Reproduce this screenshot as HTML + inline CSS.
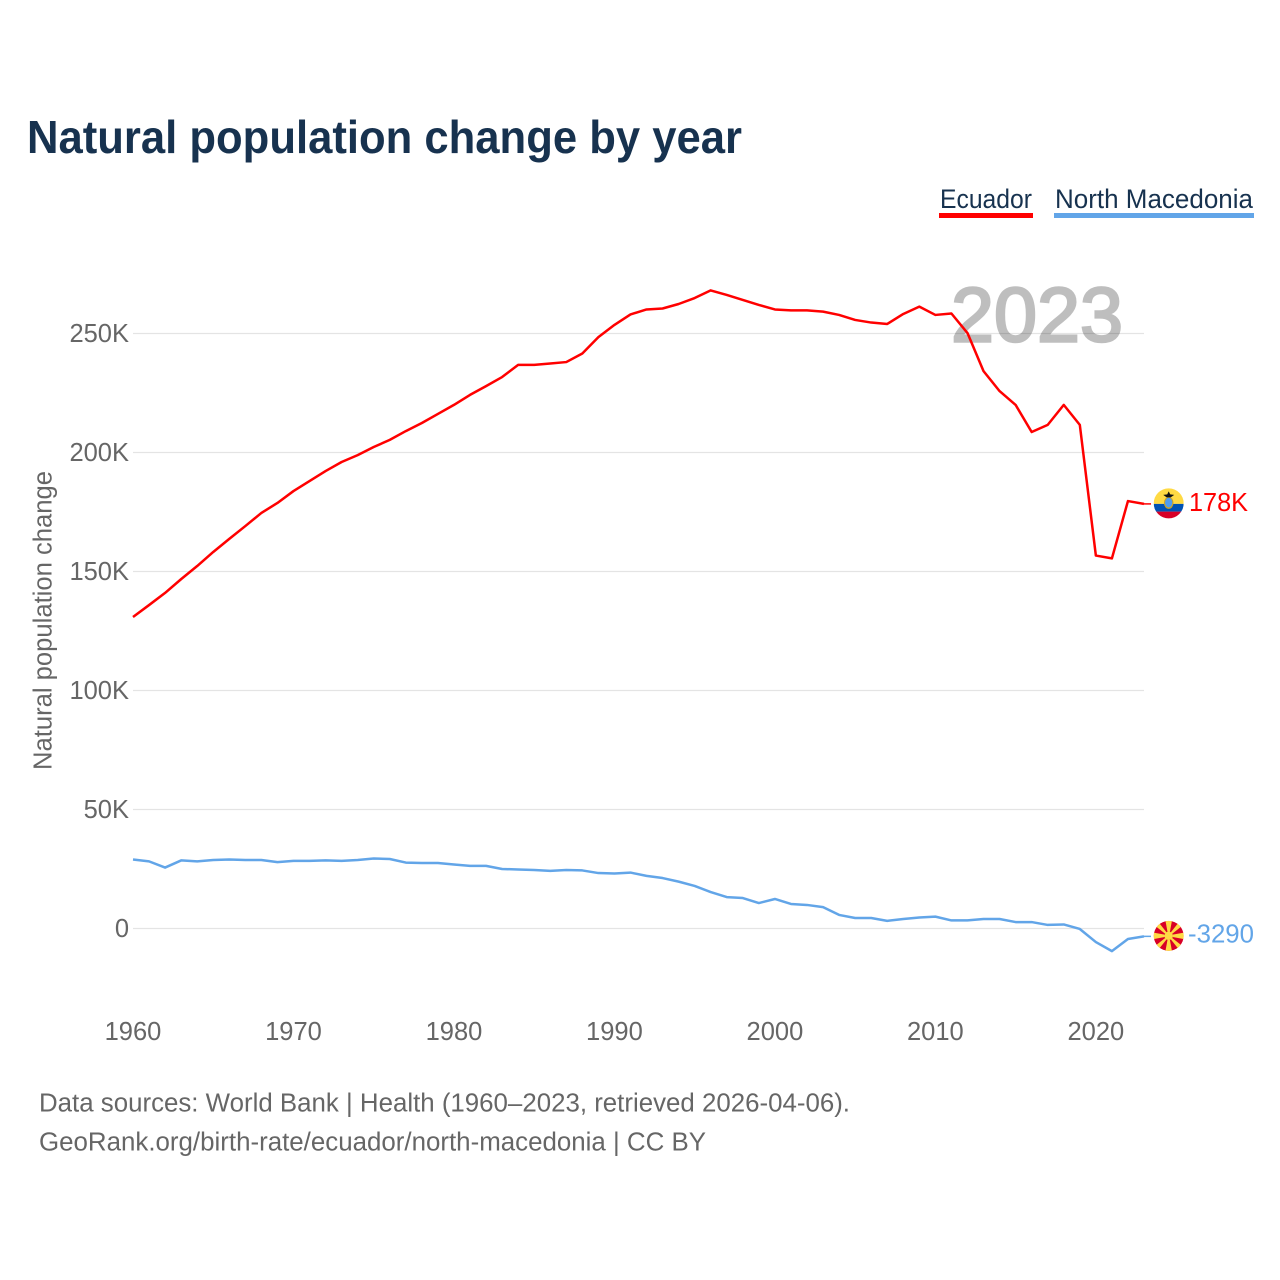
<!DOCTYPE html>
<html lang="en">
<head>
<meta charset="utf-8">
<title>Natural population change by year</title>
<style>
  html, body { margin: 0; padding: 0; background: #fff; }
  svg { display: block; font-family: "Liberation Sans", sans-serif; }
</style>
</head>
<body>
<svg id="chart" xmlns="http://www.w3.org/2000/svg" width="1280" height="1280" viewBox="0 0 1280 1280">
  <rect x="0" y="0" width="1280" height="1280" fill="#ffffff"/>
  <text x="27" y="153" font-size="46" font-weight="700" fill="#17324f" textLength="715" lengthAdjust="spacingAndGlyphs">Natural population change by year</text>

  <g>
    <text x="940" y="208" font-size="26.5" fill="#17324f" textLength="92" lengthAdjust="spacingAndGlyphs">Ecuador</text>
    <rect x="939" y="213" width="94" height="5" fill="#ff0000"/>
  </g>
  <g>
    <text x="1055" y="208" font-size="26.5" fill="#17324f" textLength="198" lengthAdjust="spacingAndGlyphs">North Macedonia</text>
    <rect x="1054" y="213" width="200" height="5" fill="#62a5e8"/>
  </g>

  <g id="grid"></g>
  <g id="y-labels"></g>
  <g id="x-labels"></g>
  <text transform="translate(51.5,770) rotate(-90)" font-size="25.5" fill="#666666" textLength="299" lengthAdjust="spacingAndGlyphs">Natural population change</text>

  <text x="951" y="341.5" font-size="77" font-weight="400" fill="#000000" stroke="#000000" stroke-width="2.5" opacity="0.25" textLength="172" lengthAdjust="spacingAndGlyphs">2023</text>

  <g id="series"></g>

  <defs>
    <clipPath id="flag-clip"><circle cx="0" cy="0" r="15"/></clipPath>
  </defs>

  <g id="flag-ecuador">
    <g clip-path="url(#flag-clip)">
      <rect x="-15" y="-16" width="30" height="16.5" fill="#ffda44"/>
      <rect x="-15" y="0.5" width="30" height="7.7" fill="#0052b4"/>
      <rect x="-15" y="8.2" width="30" height="8" fill="#d80027"/>
      <ellipse cx="0" cy="-0.5" rx="4.8" ry="6" fill="#c9a227"/>
      <ellipse cx="0" cy="-0.8" rx="3.6" ry="4.8" fill="#4f9cf0"/>
      <polygon points="-5.5,-8.5 -1.5,-9 0,-12 1.5,-9 5.5,-8.5 2,-6 -2,-6" fill="#111111"/>
    </g>
  </g>

  <g id="flag-macedonia">
    <g clip-path="url(#flag-clip)">
      <circle cx="0" cy="0" r="15" fill="#d80027"/>
      <g fill="#ffda44">
        <polygon points="-1.2,-4 1.2,-4 3.4,-16 -3.4,-16"/>
        <polygon transform="rotate(45)" points="-1,-4 1,-4 2.6,-18 -2.6,-18"/>
        <polygon transform="rotate(90)" points="-1.2,-4 1.2,-4 3.4,-16 -3.4,-16"/>
        <polygon transform="rotate(135)" points="-1,-4 1,-4 2.6,-18 -2.6,-18"/>
        <polygon transform="rotate(180)" points="-1.2,-4 1.2,-4 3.4,-16 -3.4,-16"/>
        <polygon transform="rotate(225)" points="-1,-4 1,-4 2.6,-18 -2.6,-18"/>
        <polygon transform="rotate(270)" points="-1.2,-4 1.2,-4 3.4,-16 -3.4,-16"/>
        <polygon transform="rotate(315)" points="-1,-4 1,-4 2.6,-18 -2.6,-18"/>
        <circle cx="0" cy="0" r="4.2"/>
      </g>
    </g>
  </g>

  <text id="end-ecuador" x="1189" font-size="26" fill="#ff0000" textLength="59" lengthAdjust="spacingAndGlyphs"></text>
  <text id="end-macedonia" x="1188" font-size="26" fill="#62a5e8" textLength="66" lengthAdjust="spacingAndGlyphs"></text>

  <text x="39" y="1111.5" font-size="25.5" fill="#666666" textLength="811" lengthAdjust="spacingAndGlyphs">Data sources: World Bank | Health (1960–2023, retrieved 2026-04-06).</text>
  <text x="39" y="1150.5" font-size="25.5" fill="#666666" textLength="667" lengthAdjust="spacingAndGlyphs">GeoRank.org/birth-rate/ecuador/north-macedonia | CC BY</text>
</svg>

<script>
var startYear = 1960;
var ecuadorValues = [130.9,135.9,141.0,146.8,152.3,158.2,163.7,169.1,174.6,178.8,
  183.8,188.0,192.2,196.0,198.9,202.3,205.3,209.0,212.4,216.2,
  220.0,224.2,227.9,231.7,236.8,236.8,237.4,238.0,241.6,248.5,
  253.6,258.0,260.1,260.5,262.4,264.9,268.1,266.2,264.1,262.0,
  260.1,259.7,259.7,259.2,257.8,255.7,254.6,254.0,258.2,261.3,
  257.8,258.4,250.2,234.2,225.8,220.0,208.6,211.6,220.0,211.6,
  156.7,155.5,179.6,178.4];
var macedoniaValues = [29.0,28.2,25.6,28.6,28.2,28.8,29.0,28.8,28.8,27.9,
  28.4,28.4,28.6,28.4,28.8,29.4,29.2,27.7,27.5,27.5,
  26.9,26.3,26.3,25.0,24.8,24.6,24.2,24.6,24.4,23.3,
  23.1,23.5,22.1,21.2,19.7,17.9,15.3,13.2,12.8,10.7,
  12.4,10.3,9.9,9.0,5.7,4.4,4.4,3.2,4.0,4.6,
  5.0,3.4,3.4,4.0,4.0,2.7,2.7,1.5,1.7,-0.2,
  -5.7,-9.5,-4.4,-3.3];
var yTicks = [0,50,100,150,200,250];
var yTickLabels = ['0','50K','100K','150K','200K','250K'];
var xTicks = [1960,1970,1980,1990,2000,2010,2020];
var endLabels = ['178K','-3290'];

var NS = 'http://www.w3.org/2000/svg';
function xScale(year) { return 133 + (year - 1960) * (1011 / 63); }
function yScale(v) { return 928.5 - v * 2.38; }
function make(tag, parent) {
  var el = document.createElementNS(NS, tag);
  parent.appendChild(el);
  return el;
}

var grid = document.getElementById('grid');
var yLabels = document.getElementById('y-labels');
yTicks.forEach(function (t, i) {
  var line = make('line', grid);
  
  
  line.setAttribute('x1', 133);
  line.setAttribute('x2', 1144);
  line.setAttribute('y1', yScale(t));
  line.setAttribute('y2', yScale(t));
  line.setAttribute('stroke', '#e4e4e4');
  line.setAttribute('stroke-width', 1.25);
  var label = make('text', yLabels);
  
  
  label.setAttribute('x', 129);
  label.setAttribute('y', yScale(t) + 8.5);
  label.setAttribute('text-anchor', 'end');
  label.setAttribute('font-size', 25.5);
  label.setAttribute('fill', '#666666');
  label.textContent = yTickLabels[i];
});

var xLabels = document.getElementById('x-labels');
xTicks.forEach(function (t) {
  var label = make('text', xLabels);
  
  
  label.setAttribute('x', xScale(t));
  label.setAttribute('y', 1040);
  label.setAttribute('text-anchor', 'middle');
  label.setAttribute('font-size', 25.5);
  label.setAttribute('fill', '#666666');
  label.textContent = String(t);
});

function linePoints(values) {
  return values.map(function (v, i) {
    return xScale(startYear + i).toFixed(2) + ',' + yScale(v).toFixed(2);
  }).join(' ');
}

var series = document.getElementById('series');

var ecuadorLine = make('polyline', series);


ecuadorLine.setAttribute('points', linePoints(ecuadorValues));
ecuadorLine.setAttribute('fill', 'none');
ecuadorLine.setAttribute('stroke', '#ff0000');
ecuadorLine.setAttribute('stroke-width', 2.5);
ecuadorLine.setAttribute('stroke-linejoin', 'round');

var macedoniaLine = make('polyline', series);


macedoniaLine.setAttribute('points', linePoints(macedoniaValues));
macedoniaLine.setAttribute('fill', 'none');
macedoniaLine.setAttribute('stroke', '#62a5e8');
macedoniaLine.setAttribute('stroke-width', 2.5);
macedoniaLine.setAttribute('stroke-linejoin', 'round');

var lastYear = startYear + ecuadorValues.length - 1;
var ecuadorEndY = yScale(ecuadorValues[ecuadorValues.length - 1]);
var macedoniaEndY = yScale(macedoniaValues[macedoniaValues.length - 1]);

var ecuadorConnector = make('line', series);


ecuadorConnector.setAttribute('x1', xScale(lastYear));
ecuadorConnector.setAttribute('x2', 1151);
ecuadorConnector.setAttribute('y1', ecuadorEndY);
ecuadorConnector.setAttribute('y2', ecuadorEndY);
ecuadorConnector.setAttribute('stroke', '#ff0000');
ecuadorConnector.setAttribute('stroke-width', 1.5);

var macedoniaConnector = make('line', series);


macedoniaConnector.setAttribute('x1', xScale(lastYear));
macedoniaConnector.setAttribute('x2', 1151);
macedoniaConnector.setAttribute('y1', macedoniaEndY);
macedoniaConnector.setAttribute('y2', macedoniaEndY);
macedoniaConnector.setAttribute('stroke', '#62a5e8');
macedoniaConnector.setAttribute('stroke-width', 1.5);

document.getElementById('flag-ecuador').setAttribute('transform', 'translate(1168.7,' + (ecuadorEndY - 0.5) + ')');
document.getElementById('flag-macedonia').setAttribute('transform', 'translate(1168.7,' + (macedoniaEndY - 0.5) + ')');

var endEcuador = document.getElementById('end-ecuador');
endEcuador.setAttribute('y', ecuadorEndY + 7);
endEcuador.textContent = endLabels[0];
var endMacedonia = document.getElementById('end-macedonia');
endMacedonia.setAttribute('y', macedoniaEndY + 6);
endMacedonia.textContent = endLabels[1];
</script>
</body>
</html>
